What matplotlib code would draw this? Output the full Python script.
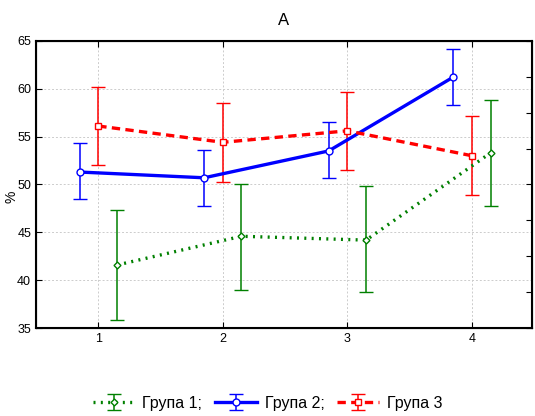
import numpy as np
import matplotlib.pyplot as plt

plt.rcParams['font.family'] = ['Liberation Sans', 'DejaVu Sans']

# data
groups = [1, 2, 3, 4]
labels = ['Група 1;', 'Група 2;', 'Група 3']

g1_mean = [41.6, 44.6, 44.2, 53.3]
g1_low = [35.9, 39.0, 38.8, 47.8]
g1_high = [47.3, 50.0, 49.8, 58.8]

g2_mean = [51.3, 50.7, 53.5, 61.2]
g2_low = [48.5, 47.8, 50.7, 58.3]
g2_high = [54.3, 53.6, 56.5, 64.1]

g3_mean = [56.1, 54.4, 55.6, 53.0]
g3_low = [52.0, 50.3, 51.5, 48.9]
g3_high = [60.2, 58.5, 59.6, 57.1]

fig = plt.figure(figsize=(5.35, 4.16), dpi=100)
ax = fig.add_axes([0.0673, 0.2108, 0.9265, 0.6914])

x = np.array(groups, dtype=float)

series = [
    (g1_mean, g1_low, g1_high, 0.15, 'green', (0, (0.6, 1.6)), 'D', 3.5),
    (g2_mean, g2_low, g2_high, -0.15, 'blue', '-', 'o', 5),
    (g3_mean, g3_low, g3_high, 0.0, 'red', (0, (2.5, 1.6)), 's', 5),
]

handles = []
for (mean, low, high, off, color, ls, mk, ms), lab in zip(series, labels):
    mean = np.array(mean)
    yerr = [mean - np.array(low), np.array(high) - mean]
    h = ax.errorbar(
        x + off, mean, yerr=yerr,
        color=color, ecolor=color, linestyle=ls, linewidth=2.4,
        elinewidth=1.1, capsize=5, capthick=1.1,
        marker=mk, markersize=ms, markerfacecolor='white',
        markeredgecolor=color, markeredgewidth=1.0,
        label=lab, zorder=3,
    )
    handles.append(h)

ax.set_xlim(0.5, 4.48)
ax.set_ylim(35, 65)
ax.set_xticks(groups)
ax.set_yticks(np.arange(35, 66, 5))
ax.grid(True, color='#cccccc', linestyle=(0, (2, 2)), linewidth=0.7)
ax.set_axisbelow(True)
ax.tick_params(direction='in', labelsize=9, length=4, top=True)
for sp in ax.spines.values():
    sp.set_linewidth(1.5)

# y label placed by hand, just under the "50" tick label
fig.text(11 / 535, 1 - 197 / 416, '%', fontsize=10, rotation=90,
         ha='center', va='center')
ax.set_title('A', fontsize=12, pad=11)

# unlabeled ticks on the right side
ax2 = ax.twinx()
ax2.set_ylim(35, 65)
ax2.set_yticks(np.linspace(35, 65, 9))
ax2.set_yticklabels([])
ax2.tick_params(direction='in', length=4)

fig.legend(
    handles=handles, labels=labels, ncol=3, frameon=False,
    loc='center', bbox_to_anchor=(0.5, 0.03), fontsize=11.5,
    handlelength=2.6, columnspacing=0.8, handletextpad=0.5,
)

fig.savefig('out.png', dpi=100)
